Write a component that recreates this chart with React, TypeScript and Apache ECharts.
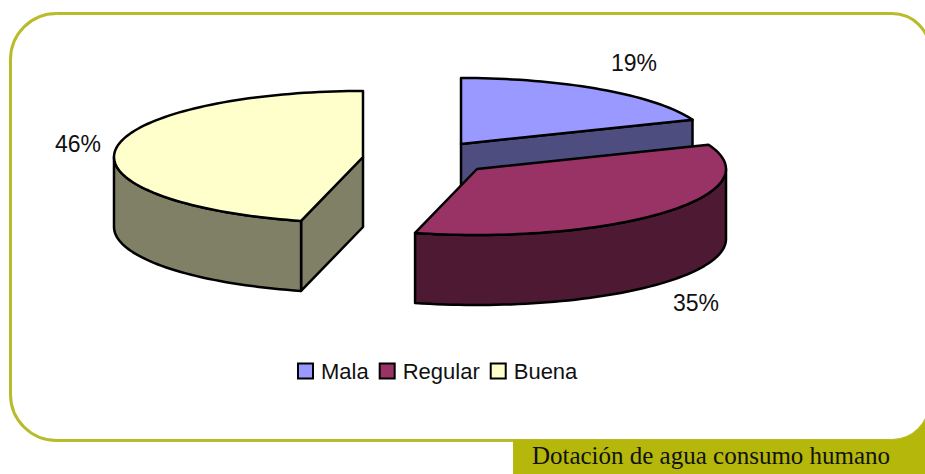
import React, { useEffect, useRef } from "react";
import * as echarts from "echarts";

const categories = ["Mala", "Regular", "Buena"];
const percentages = [19, 35, 46];
const footerTitle = "Dotación de agua consumo humano";

const topColors = ["#9999FF", "#993366", "#FFFFCC"];
const sideColors = ["#4D4D80", "#4D1933", "#808066"];
const sliceCenters = [[461, 144], [477, 169], [363, 157]];
const labelCenters = [[634, 63], [696, 303], [78, 144]];

const RX = 249, RY = 66, DEPTH = 70;
const OLIVE = "#B5B80B";
const TAU = Math.PI * 2;

function arcPts(c: number[], a0: number, a1: number, dy = 0) {
  const n = Math.max(2, Math.ceil(Math.abs(a1 - a0) / 0.03));
  const pts: number[][] = [];
  for (let i = 0; i <= n; i++) {
    const a = a0 + ((a1 - a0) * i) / n;
    pts.push([c[0] + RX * Math.sin(a), c[1] - RY * Math.cos(a) + dy]);
  }
  return pts;
}

function renderSlice(params: any, api: any) {
  const i = params.seriesIndex;
  const total = percentages.reduce((s, v) => s + v, 0);
  const before = percentages.slice(0, i).reduce((s, v) => s + v, 0);
  const a0 = (before / total) * TAU;
  const a1 = a0 + (api.value(0) / total) * TAU;
  const c = sliceCenters[i];
  const line = { stroke: "#000", lineWidth: 2.5, lineJoin: "round" };
  const side = { ...line, fill: sideColors[i] };
  const children: any[] = [];
  const radial = (a: number) => {
    const rim = arcPts(c, a, a)[0];
    children.push({
      type: "polygon",
      shape: { points: [c, rim, [rim[0], rim[1] + DEPTH], [c[0], c[1] + DEPTH]] },
      style: side,
    });
  };
  if (Math.sin(a0) < -1e-6) radial(a0);
  if (Math.sin(a1) > 1e-6) radial(a1);
  const f0 = Math.max(a0, Math.PI / 2);
  const f1 = Math.min(a1, (Math.PI * 3) / 2);
  if (f1 > f0) {
    const upper = arcPts(c, f0, f1);
    const lower = arcPts(c, f1, f0, DEPTH);
    children.push({ type: "polygon", shape: { points: [...upper, ...lower] }, style: side });
  }
  children.push({
    type: "polygon",
    shape: { points: [c, ...arcPts(c, a0, a1)] },
    style: { ...line, fill: topColors[i] },
  });
  children.push({
    type: "text",
    style: {
      x: labelCenters[i][0],
      y: labelCenters[i][1],
      text: `${api.value(0)}%`,
      align: "center",
      verticalAlign: "middle",
      fill: "#111",
      font: '23px "Liberation Sans", Arial, sans-serif',
    },
  });
  return { type: "group", children };
}

function cornerPts() {
  const pts: number[][] = [[513, 474], [513, 440], [892, 440]];
  for (let a = 0; a <= 60; a += 3) {
    const r = (a * Math.PI) / 180;
    pts.push([892 + 38 * Math.sin(r), 402 + 38 * Math.cos(r)]);
  }
  pts.push([925, 420], [925, 474]);
  return pts;
}

export default function App() {
  const ref = useRef<HTMLDivElement>(null);
  useEffect(() => {
    const chart = echarts.init(ref.current!, undefined, { renderer: "svg" });
    chart.setOption({
      animation: false,
      backgroundColor: "#fff",
      legend: {
        left: 297,
        top: 360,
        padding: 0,
        itemWidth: 15,
        itemHeight: 15,
        itemGap: 10,
        selectedMode: false,
        textStyle: {
          fontFamily: '"Liberation Sans", Arial, sans-serif',
          fontSize: 22,
          color: "#111",
          padding: [0, 0, 0, 3],
        },
        data: categories.map((name, i) => ({
          name,
          icon: "rect",
          itemStyle: { color: topColors[i], borderColor: "#000", borderWidth: 2 },
        })),
      },
      graphic: [
        {
          type: "rect",
          silent: true,
          z: -1,
          shape: { x: 10.5, y: 13.5, width: 919.5, height: 427, r: [46, 38, 38, 46] },
          style: { fill: "#fff", stroke: "#B9BC2A", lineWidth: 3 },
        },
        {
          type: "polygon",
          silent: true,
          z: -1,
          shape: { points: cornerPts() },
          style: { fill: OLIVE },
        },
        {
          type: "text",
          silent: true,
          style: {
            x: 711,
            y: 455,
            text: footerTitle,
            align: "center",
            verticalAlign: "middle",
            fill: "#111",
            font: '25px "Liberation Serif", "Times New Roman", serif',
          },
        },
      ],
      series: categories.map((name, i) => ({
        type: "custom",
        name,
        coordinateSystem: "none",
        silent: true,
        itemStyle: { color: topColors[i] },
        data: [[percentages[i]]],
        renderItem: renderSlice,
      })),
    });
    return () => chart.dispose();
  }, []);
  return (
    <div
      ref={ref}
      style={{ position: "absolute", left: 0, top: 0, width: 925, height: 474 }}
    />
  );
}
